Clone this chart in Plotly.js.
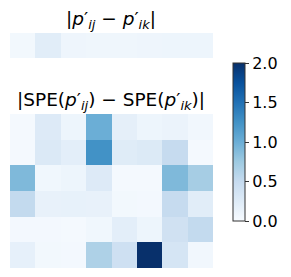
<!DOCTYPE html>
<html><head><meta charset="utf-8">
<script src="https://cdn.plot.ly/plotly-3.0.1.min.js"></script>
<style>body{margin:0;padding:0;background:#fff}</style>
</head><body><div id="chart" style="width:291px;height:277px"></div>
<script>
const topTitle = "|<i>p</i>′<sub><i>ij</i></sub> − <i>p</i>′<sub><i>ik</i></sub>|";
const bottomTitle = "|SPE(<i>p</i>′<sub><i>ij</i></sub>) − SPE(<i>p</i>′<sub><i>ik</i></sub>)|";
const columns = [0,1,2,3,4,5,6,7];
const topRows = [0];
const bottomRows = [0,1,2,3,4,5];
const topValues = [[0.05, 0.22, 0.09, 0.08, 0.08, 0.09, 0.1, 0.1]];
const bottomValues = [
  [0.03, 0.26, 0.1, 1.0, 0.18, 0.1, 0.12, 0.06],
  [0.03, 0.28, 0.2, 1.25, 0.24, 0.27, 0.5, 0.03],
  [0.9, 0.07, 0.1, 0.26, 0.03, 0.03, 0.9, 0.7],
  [0.52, 0.15, 0.16, 0.15, 0.05, 0.04, 0.5, 0.22],
  [0.04, 0.04, 0.03, 0.07, 0.2, 0.1, 0.4, 0.52],
  [0.17, 0.05, 0.04, 0.65, 0.42, 2.0, 0.34, 0.06]
];
const colorTicks = [0, 0.5, 1.0, 1.5, 2.0];
const blues = [[0,'#f7fbff'],[0.125,'#deebf7'],[0.25,'#c6dbef'],[0.375,'#9ecae1'],[0.5,'#6baed6'],[0.625,'#4292c6'],[0.75,'#2171b5'],[0.875,'#08519c'],[1,'#08306b']];
const W = 291, H = 277;
const font = {family: 'DejaVu Sans', color: '#000'};
const data = [
  {type:'heatmap', x: columns, y: topRows, z: topValues, xaxis:'x', yaxis:'y',
   colorscale: blues, zmin:0, zmax:2, showscale:false, hoverinfo:'none'},
  {type:'heatmap', x: columns, y: bottomRows, z: bottomValues, xaxis:'x2', yaxis:'y2',
   colorscale: blues, zmin:0, zmax:2, hoverinfo:'none',
   colorbar: {x: 233/W, xanchor:'left', thickness: 12, thicknessmode:'pixels',
     len: 158, lenmode:'pixels', y: 1-221/H, yanchor:'bottom',
     outlinewidth: 1, outlinecolor:'#333', ticks:'outside', ticklen:4, tickcolor:'#333',
     tickvals: colorTicks, tickformat:'.1f', tickfont:{family:'DejaVu Sans', size:16, color:'#000'}, xpad:0, ypad:0}}
];
const ax = {showgrid:false, zeroline:false, showticklabels:false, ticks:'', showline:false};
const layout = {
  width: W, height: H, margin:{l:0,r:0,t:0,b:0}, paper_bgcolor:'#fff', plot_bgcolor:'#fff',
  font: font,
  xaxis: Object.assign({domain:[10/W, 213/W], anchor:'y'}, ax),
  yaxis: Object.assign({domain:[1-58/H, 1-33/H], anchor:'x', autorange:'reversed'}, ax),
  xaxis2: Object.assign({domain:[10/W, 213/W], anchor:'y2'}, ax),
  yaxis2: Object.assign({domain:[1-268/H, 1-114/H], anchor:'x2', autorange:'reversed'}, ax),
  annotations: [
    {text: topTitle, xref:'paper', yref:'paper', x:111/W, y:1-20/H, yanchor:'middle', showarrow:false, font:{family:'DejaVu Sans', size:18.5, color:'#000'}},
    {text: bottomTitle, xref:'paper', yref:'paper', x:111/W, y:1-101/H, yanchor:'middle', showarrow:false, font:{family:'DejaVu Sans', size:18.5, color:'#000'}}
  ]
};
Plotly.newPlot('chart', data, layout, {displayModeBar:false, staticPlot:true});
</script></body></html>
